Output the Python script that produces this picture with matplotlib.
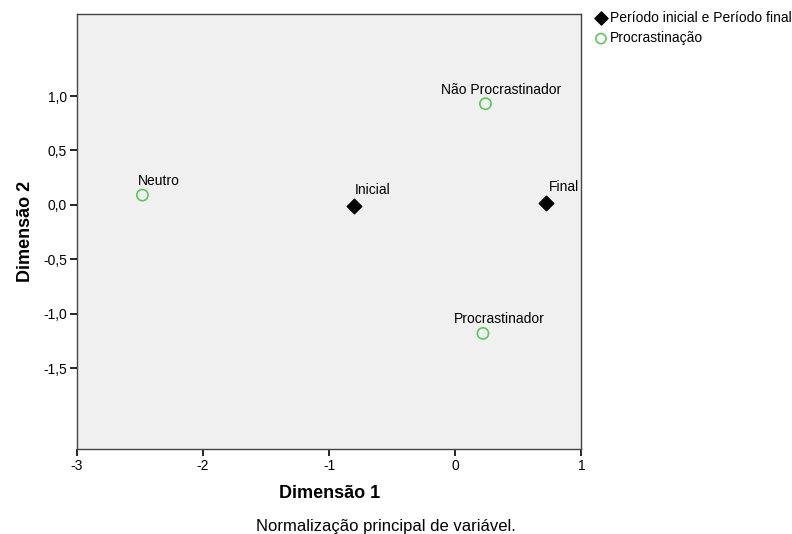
import numpy as np
from matplotlib import pyplot as plt

plt.rcParams['font.family'] = ['Liberation Sans', 'DejaVu Sans']

# period points (diamonds)
periodo_labels = ['Inicial', 'Final']
periodo_x = [-0.80, 0.72]
periodo_y = [-0.01, 0.02]

# procrastination categories (circles)
procr_labels = ['Neutro', 'Não Procrastinador', 'Procrastinador']
procr_x = [-2.48, 0.24, 0.22]
procr_y = [0.09, 0.93, -1.18]

xticks = [-3, -2, -1, 0, 1]
yticks = [1.0, 0.5, 0.0, -0.5, -1.0, -1.5]

PX = 0.72  # points per pixel at 100 dpi

fig = plt.figure(figsize=(7.92, 5.34), dpi=100)
ax = fig.add_axes([0.097, 0.159, 0.637, 0.815])
ax.set_facecolor('#f0f0f0')

ax.scatter(periodo_x, periodo_y, marker='D', s=55, color='black',
           label='Período inicial e Período final', zorder=3)
ax.scatter(procr_x, procr_y, marker='o', s=65, facecolors='none',
           edgecolors='#5cc85c', linewidths=1.2, label='Procrastinação', zorder=3)

# label placement (pixel offsets, alignment) as in the original layout
periodo_off = [(0, 9, 'left'), (3, 9, 'left')]
procr_off = [(-5, 7, 'left'), (16, 7, 'center'), (16, 7, 'center')]

for lab, x, y, (dx, dy, ha) in zip(periodo_labels, periodo_x, periodo_y, periodo_off):
    ax.annotate(lab, (x, y), xytext=(dx * PX, dy * PX), textcoords='offset points',
                fontsize=10, ha=ha, va='bottom')
for lab, x, y, (dx, dy, ha) in zip(procr_labels, procr_x, procr_y, procr_off):
    ax.annotate(lab, (x, y), xytext=(dx * PX, dy * PX), textcoords='offset points',
                fontsize=10, ha=ha, va='bottom')

ax.set_xlim(-3, 1)
ax.set_ylim(-2.243, 1.755)
ax.set_xticks(xticks)
ax.set_yticks(yticks)
ax.set_xticklabels([str(t) for t in xticks], fontsize=10)
ax.set_yticklabels([f'{t:.1f}'.replace('.', ',') for t in yticks], fontsize=10)
ax.tick_params(direction='out', length=5, width=1.2, pad=2)
for sp in ax.spines.values():
    sp.set_linewidth(1.0)
    sp.set_color('#444444')

ax.set_xlabel('Dimensão 1', fontsize=13, fontweight='bold', labelpad=9)
ax.set_ylabel('Dimensão 2', fontsize=13, fontweight='bold', labelpad=7)

ax.legend(loc='upper left', bbox_to_anchor=(594 / 792, 1 - 11 / 534),
          bbox_transform=fig.transFigure, frameon=False,
          fontsize=10, handletextpad=0.15, borderpad=0.0, borderaxespad=0.0,
          labelspacing=0.45, handlelength=1.0, markerscale=0.9)

fig.text(0.487, (534 - 526) / 534, 'Normalização principal de variável.',
         ha='center', va='center', fontsize=12)

fig.savefig('out.png', dpi=100)
